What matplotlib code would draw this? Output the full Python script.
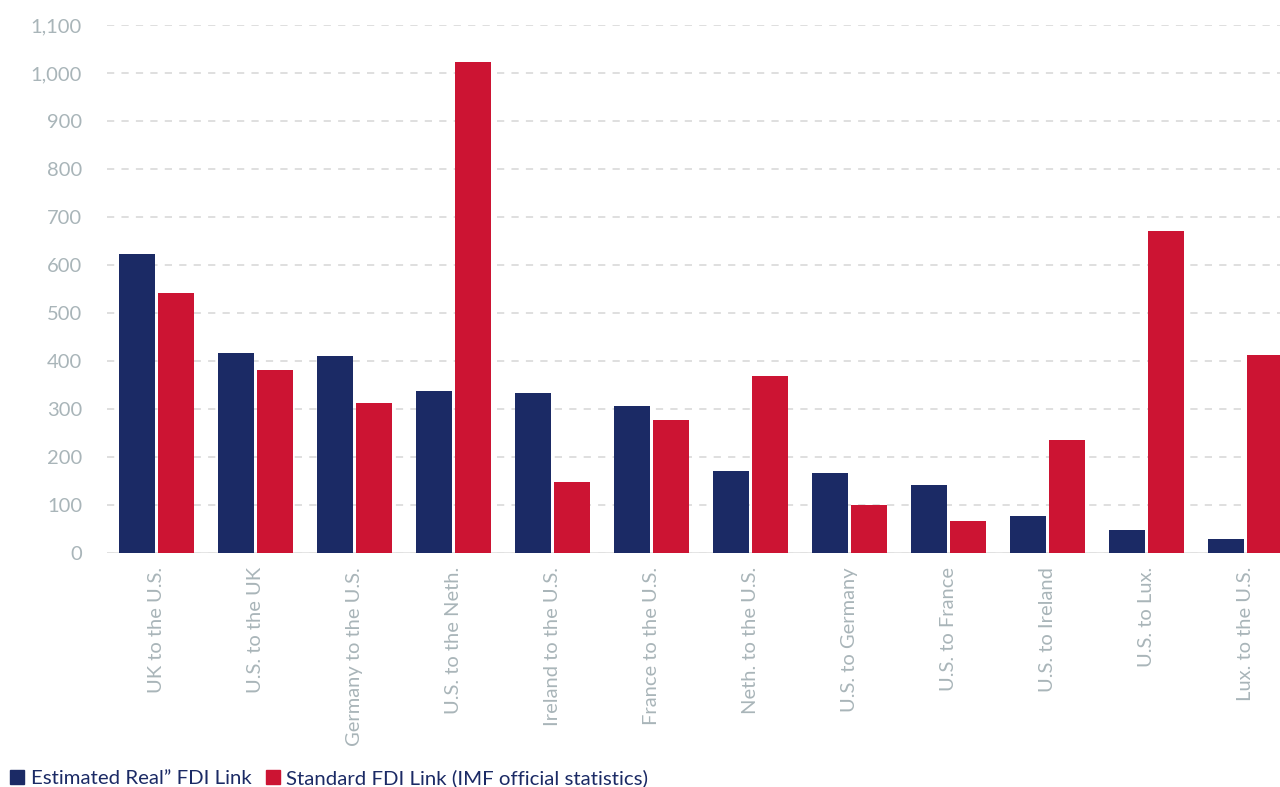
import matplotlib.pyplot as plt
from matplotlib.patches import Patch
import numpy as np

categories = ["UK to the U.S.", "U.S. to the UK", "Germany to the U.S.", "U.S. to the Neth.",
              "Ireland to the U.S.", "France to the U.S.", "Neth. to the U.S.", "U.S. to Germany",
              "U.S. to France", "U.S. to Ireland", "U.S. to Lux.", "Lux. to the U.S."]
estimated_real = [623, 417, 410, 337, 333, 306, 171, 167, 142, 77, 48, 29]
standard_fdi = [542, 381, 312, 1023, 148, 277, 369, 100, 67, 235, 671, 412]
yticks = [0, 100, 200, 300, 400, 500, 600, 700, 800, 900, 1000, 1100]

navy = "#1b2a65"
red = "#cc1433"
tick_color = "#a9b5b9"

plt.rcParams['font.family'] = ['Lato', 'DejaVu Sans']

fig = plt.figure(figsize=(12.8, 7.87), dpi=100)
ax = fig.add_axes([107 / 1280, 1 - 553 / 787, 1173 / 1280, 528 / 787])

x = np.arange(len(categories))
w = 0.364
ax.bar(x - 0.197, estimated_real, width=w, color=navy, zorder=3)
ax.bar(x + 0.197, standard_fdi, width=w, color=red, zorder=3)

ax.set_xlim(-0.5, 11.35)
ax.set_ylim(0, 1100)
ax.set_yticks(yticks)
ax.set_yticklabels([f"{v:,}" for v in yticks])
ax.set_xticks(x)
ax.set_xticklabels(categories, rotation=90, va="top", ha="center")

ax.yaxis.grid(True, color="#dcdcdc", linestyle=(0, (4, 4)), linewidth=1.3, zorder=0)
ax.set_axisbelow(True)
for s in ax.spines.values():
    s.set_visible(False)
ax.axhline(0, color="#e2e2e2", linewidth=2, zorder=2)

ax.tick_params(axis="both", length=0, colors=tick_color, labelsize=14.5)
ax.tick_params(axis="y", pad=18)
ax.tick_params(axis="x", pad=10)

handles = [Patch(color=navy, label="Estimated Real\u201d FDI Link"),
           Patch(color=red, label="Standard FDI Link (IMF official statistics)")]
fig.legend(handles=handles, loc="center left", bbox_to_anchor=(0.0, 1 - 778 / 787), ncol=2, frameon=False,
           handlelength=0.7, handleheight=0.7, handletextpad=0.3, columnspacing=0.7,
           fontsize=14.7, labelcolor=navy, borderaxespad=0.3, borderpad=0.2)

fig.savefig("out.png", dpi=100)
